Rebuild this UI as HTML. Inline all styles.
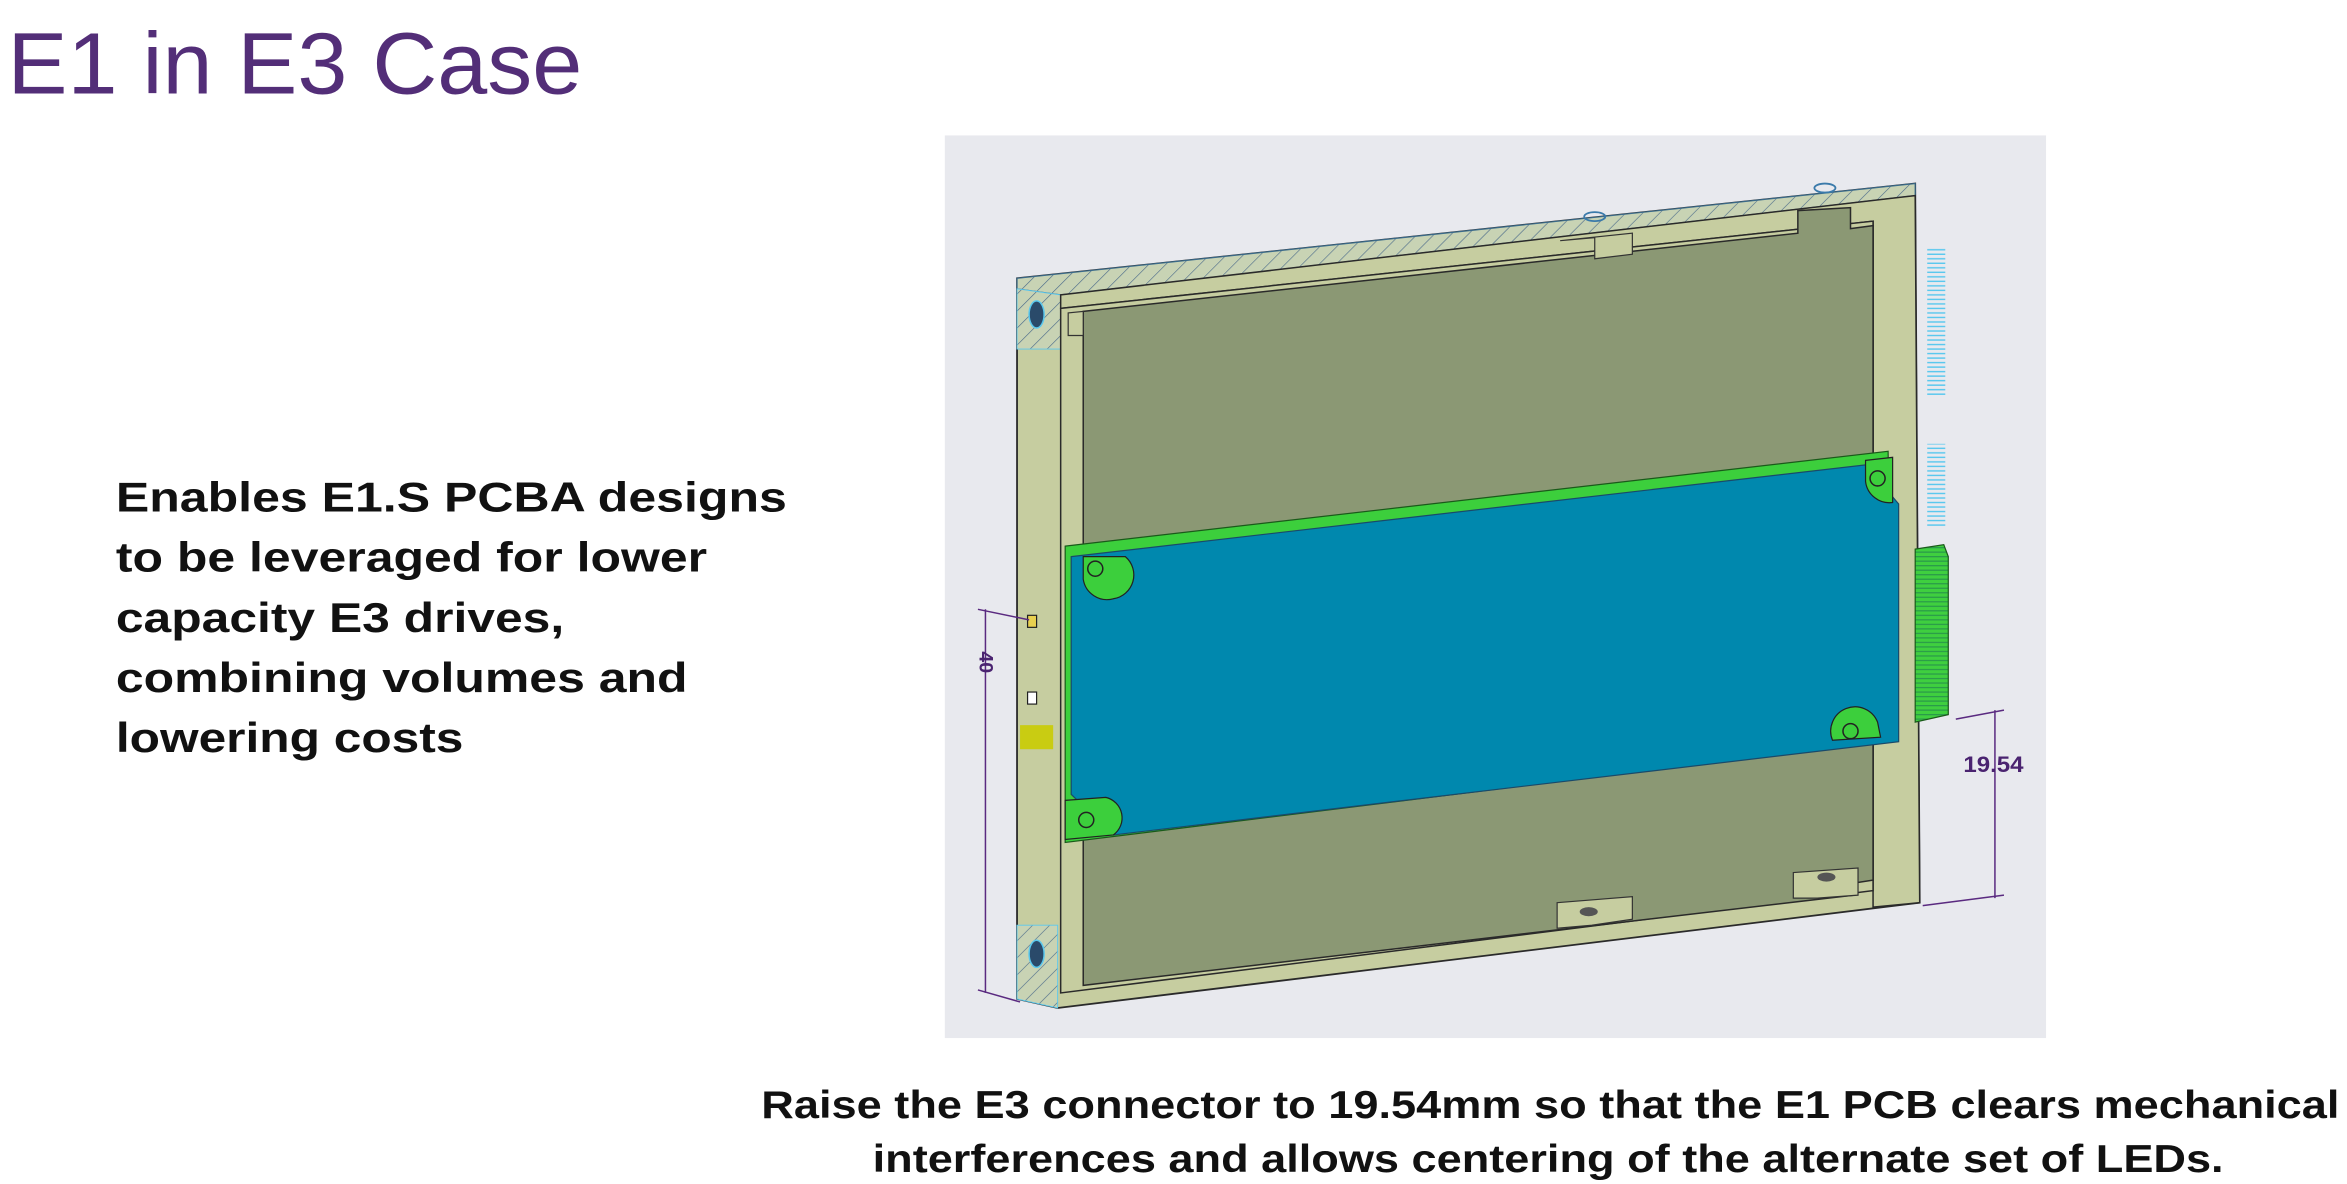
<!DOCTYPE html>
<html><head><meta charset="utf-8"><style>html,body{margin:0;padding:0;background:#fff}svg{display:block}</style></head>
<body>
<svg width="2347" height="1184" viewBox="0 0 1560 787" xmlns="http://www.w3.org/2000/svg" font-family="'Liberation Sans', Arial, sans-serif">
<defs>
<pattern id="hatch" width="8" height="8" patternUnits="userSpaceOnUse" patternTransform="rotate(45)"><rect width="8" height="8" fill="#c8d3b4"/><line x1="0" y1="0" x2="0" y2="8" stroke="#4a6a8a" stroke-width="0.8"/></pattern>
<pattern id="vh" width="12" height="3" patternUnits="userSpaceOnUse"><line x1="0" y1="1" x2="12" y2="1" stroke="#5ac8ee" stroke-width="1"/></pattern>
<pattern id="gh" width="22" height="3" patternUnits="userSpaceOnUse"><rect width="22" height="3" fill="#3fcf3f"/><line x1="0" y1="1" x2="22" y2="1" stroke="#2a9a4a" stroke-width="0.8"/></pattern>
</defs>
<text x="5" y="62" font-size="58" fill="#532e78" textLength="382" lengthAdjust="spacingAndGlyphs">E1 in E3 Case</text>
<rect x="628" y="90" width="732" height="600" fill="#e8e9ee"/>
<polygon points="676,185 1273,122 1276,600 703,670 676,664" fill="#c6cda0" stroke="#2a2a2a" stroke-width="1.2"/>
<polygon points="676,185 1273,122 1273,130 705,196 676,192" fill="url(#hatch)" stroke="#3a6a8a" stroke-width="0.8"/>
<polygon points="676,192 705,196 705,232 676,232" fill="url(#hatch)" stroke="#5ac8ee" stroke-width="0.6"/>
<polygon points="676,615 703,615 703,670 676,664" fill="url(#hatch)" stroke="#5ac8ee" stroke-width="0.6"/>
<polygon points="705,196 1273,130 1276,600 1245,603 1245,147 705,205" fill="#c6cda0" stroke="#2a2a2a" stroke-width="1"/>
<polygon points="705,205 1245,147 1245,592 705,660" fill="#c6cda0" stroke="#2a2a2a" stroke-width="1"/>
<polygon points="720,207 1195,155 1195,140 1230,138 1230,152 1245,150 1245,585 1232,587 1232,595 720,655" fill="#8b9874" stroke="#2a2a2a" stroke-width="1"/>
<polygon points="710,223 720,223 720,207 710,208" fill="#c6cda0" stroke="#333" stroke-width="0.8"/>
<polygon points="1037,160 1060,158 1060,172 1085,169 1085,155 1037,160" fill="#c6cda0" stroke="#333" stroke-width="0.8"/>
<polygon points="1035,600 1085,596 1085,611 1058,615 1035,617" fill="#c6cda0" stroke="#333" stroke-width="0.8"/>
<polygon points="1192,580 1235,577 1235,595 1208,597 1192,597" fill="#c6cda0" stroke="#333" stroke-width="0.8"/>
<ellipse cx="1056" cy="606" rx="6" ry="3" fill="#555"/><ellipse cx="1214" cy="583" rx="6" ry="3" fill="#555"/>
<ellipse cx="1060" cy="144" rx="7" ry="3" fill="none" stroke="#3a7aaa" stroke-width="1.2"/><ellipse cx="1213" cy="125" rx="7" ry="3" fill="none" stroke="#3a7aaa" stroke-width="1.2"/>
<ellipse cx="689" cy="209" rx="5" ry="9" fill="#2a4a6a" stroke="#5ac8ee"/><ellipse cx="689" cy="634" rx="5" ry="9" fill="#2a4a6a" stroke="#5ac8ee"/>
<polygon points="708,363 1255,300 1258,492 708,560" fill="#3ccf3c" stroke="#1a5a1a" stroke-width="0.8"/>
<polygon points="712,370 1240,309 1262,335 1262,493 740,555 712,528" fill="#0088ae" stroke="#1a4a6a" stroke-width="0.8"/>
<path d="M720,370 L748,370 A16,16 0 0 1 740,398 A16,16 0 0 1 720,385 Z" fill="#3ccf3c" stroke="#222" stroke-width="0.8"/>
<path d="M1240,306 L1258,304 L1258,334 A16,16 0 0 1 1240,320 Z" fill="#3ccf3c" stroke="#222" stroke-width="0.8"/>
<path d="M1218,492 A16,16 0 0 1 1248,480 L1250,490 Z" fill="#3ccf3c" stroke="#222" stroke-width="0.8"/>
<path d="M708,532 L735,530 A14,14 0 0 1 740,555 L708,558 Z" fill="#3ccf3c" stroke="#222" stroke-width="0.8"/>
<circle cx="728" cy="378" r="5" fill="none" stroke="#222"/><circle cx="1248" cy="318" r="5" fill="none" stroke="#222"/>
<circle cx="1230" cy="486" r="5" fill="none" stroke="#222"/><circle cx="722" cy="545" r="5" fill="none" stroke="#222"/>
<polygon points="1273,365 1292,362 1295,370 1295,475 1273,480" fill="url(#gh)" stroke="#1a5a1a" stroke-width="0.8"/>
<rect x="1281" y="165" width="12" height="98" fill="url(#vh)"/>
<rect x="1281" y="295" width="12" height="55" fill="url(#vh)"/>
<rect x="678" y="482" width="22" height="16" fill="#c9cc12"/>
<rect x="683" y="409" width="6" height="8" fill="#e8d050" stroke="#222" stroke-width="0.8"/>
<rect x="683" y="460" width="6" height="8" fill="#fff" stroke="#222" stroke-width="0.8"/>
<g stroke="#5a2a80" stroke-width="1" fill="none">
<line x1="655" y1="405" x2="655" y2="660"/><line x1="650" y1="405" x2="684" y2="412"/><line x1="650" y1="658" x2="678" y2="666"/>
<line x1="1326" y1="472" x2="1326" y2="597"/><line x1="1300" y1="478" x2="1332" y2="472"/><line x1="1278" y1="602" x2="1332" y2="595"/>
</g>
<text x="0" y="0" transform="translate(651,433) rotate(90)" font-size="13" fill="#4a2370" font-weight="bold">40</text>
<text x="1305" y="513" font-size="15" font-weight="bold" fill="#4a2370" textLength="40" lengthAdjust="spacingAndGlyphs">19.54</text>
<g font-size="27.5" font-weight="bold" fill="#111">
<text x="77" y="340" textLength="446" lengthAdjust="spacingAndGlyphs">Enables E1.S PCBA designs</text>
<text x="77" y="380" textLength="393" lengthAdjust="spacingAndGlyphs">to be leveraged for lower</text>
<text x="77" y="420" textLength="298" lengthAdjust="spacingAndGlyphs">capacity E3 drives,</text>
<text x="77" y="460" textLength="380" lengthAdjust="spacingAndGlyphs">combining volumes and</text>
<text x="77" y="500" textLength="231" lengthAdjust="spacingAndGlyphs">lowering costs</text>
</g>
<g font-size="26" font-weight="bold" fill="#111">
<text x="506" y="743" textLength="1049" lengthAdjust="spacingAndGlyphs">Raise the E3 connector to 19.54mm so that the E1 PCB clears mechanical</text>
<text x="580" y="779" textLength="898" lengthAdjust="spacingAndGlyphs">interferences and allows centering of the alternate set of LEDs.</text>
</g>
</svg>
</body></html>
